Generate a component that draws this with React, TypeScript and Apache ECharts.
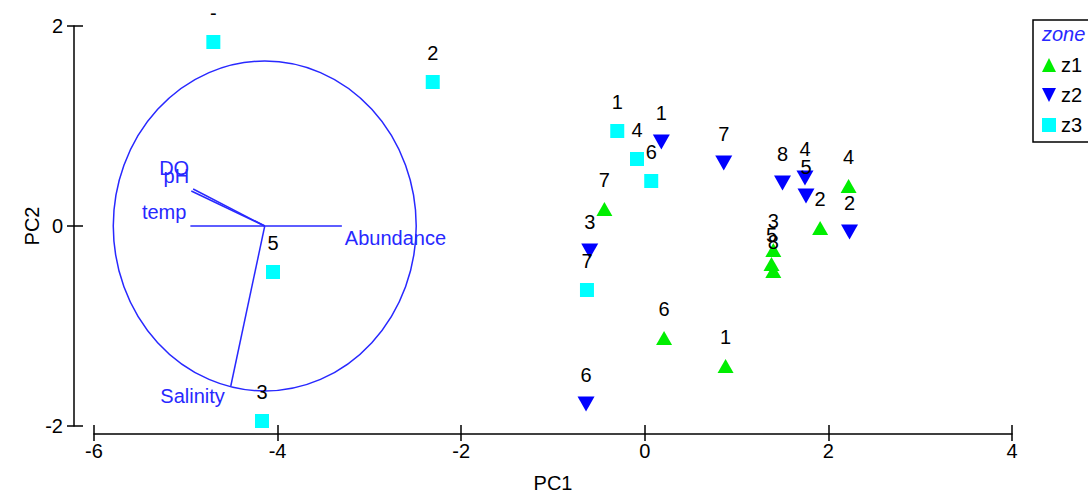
import React, { useEffect, useRef } from "react";
import * as echarts from "echarts";

// ---- Data ----
const xTicks = [-6, -4, -2, 0, 2, 4];
const yTicks = [-2, 0, 2];

const z1Labels = ["1", "2", "3", "4", "5", "6", "7", "8"];
const z1X = [0.88, 1.91, 1.4, 2.22, 1.38, 0.21, -0.44, 1.4];
const z1Y = [-1.4, -0.02, -0.24, 0.4, -0.38, -1.12, 0.17, -0.45];

const z2Labels = ["1", "2", "3", "4", "5", "6", "7", "8"];
const z2X = [0.18, 2.23, -0.6, 1.745, 1.756, -0.64, 0.86, 1.5];
const z2Y = [0.84, -0.06, -0.25, 0.48, 0.3, -1.78, 0.63, 0.43];

const z3Labels = ["1", "2", "3", "4", "5", "6", "7", "-"];
const z3X = [-0.3, -2.31, -4.17, -0.085, -4.05, 0.07, -0.63, -4.7];
const z3Y = [0.95, 1.44, -1.95, 0.67, -0.46, 0.45, -0.64, 1.84];

// biplot: correlation circle and variable vectors
const circleCenter = [-4.14, 0];
const circleRadius = 1.65;
const vectorNames = ["DO", "pH", "temp", "Abundance", "Salinity"];
const vectorEndX = [-4.92, -4.94, -4.95, -3.3, -4.51];
const vectorEndY = [0.37, 0.35, 0, 0, -1.6];

// ---- Styles ----
const FONT = "'Liberation Sans', Arial, sans-serif";
const BLUE = "#2828ff";
const labelPlace: Record<string, { align: string; dx: number; dy: number }> = {
  DO: { align: "center", dx: -19, dy: -21 },
  pH: { align: "center", dx: -15, dy: -15 },
  temp: { align: "right", dx: -4, dy: -14 },
  Abundance: { align: "left", dx: 3, dy: 12 },
  Salinity: { align: "right", dx: -6, dy: 10 },
};

const toData = (xs: number[], ys: number[], labels: string[]) =>
  xs.map((x, i) => ({ value: [x, ys[i]], name: labels[i] }));

const pointLabel = {
  show: true,
  position: "inside",
  offset: [0, -29],
  formatter: "{b}",
  color: "#000",
  textBorderWidth: 0,
  fontSize: 20,
  fontFamily: FONT,
};

export default function App() {
  const ref = useRef<HTMLDivElement>(null);
  useEffect(() => {
    document.body.style.margin = "0";
    const chart = echarts.init(ref.current!, null, { renderer: "svg" });
    const axisCommon = {
      type: "value",
      splitLine: { show: false },
    };
    const option: any = {
      animation: false,
      backgroundColor: "#fff",
      grid: {
        left: 94,
        top: 26,
        width: 918,
        height: 400,
        containLabel: false,
        outerBoundsMode: "none",
      },
      xAxis: [
        {
          ...axisCommon,
          min: -6,
          max: 4,
          interval: 2,
          offset: 8,
          name: "PC1",
          nameLocation: "middle",
          nameGap: 39,
          nameMoveOverlap: false,
          nameTextStyle: { color: "#000", fontSize: 20, fontFamily: FONT },
          axisLine: { onZero: false, lineStyle: { color: "#000", width: 1.5 } },
          axisTick: { length: 7, lineStyle: { color: "#000", width: 1.5 } },
          axisLabel: { color: "#000", fontSize: 20, fontFamily: FONT, margin: 7 },
        },
        {
          ...axisCommon,
          min: -6,
          max: 4,
          interval: 2,
          offset: 8,
          position: "bottom",
          axisLine: { show: false, onZero: false },
          axisTick: { inside: true, length: 9, lineStyle: { color: "#000", width: 1.5 } },
          axisLabel: { show: false },
        },
      ],
      yAxis: [
        {
          ...axisCommon,
          min: -2,
          max: 2,
          interval: 2,
          offset: 20,
          name: "PC2",
          nameLocation: "middle",
          nameGap: 32,
          nameMoveOverlap: false,
          nameTextStyle: { color: "#000", fontSize: 20, fontFamily: FONT },
          axisLine: { onZero: false, lineStyle: { color: "#000", width: 1.5 } },
          axisTick: { length: 7, lineStyle: { color: "#000", width: 1.5 } },
          axisLabel: { color: "#000", fontSize: 20, fontFamily: FONT, margin: 11 },
        },
        {
          ...axisCommon,
          min: -2,
          max: 2,
          interval: 2,
          offset: 20,
          position: "left",
          axisLine: { show: false, onZero: false },
          axisTick: { inside: true, length: 9, lineStyle: { color: "#000", width: 1.5 } },
          axisLabel: { show: false },
        },
      ],
      legend: {
        orient: "vertical",
        left: 1042,
        top: 55,
        padding: 0,
        itemWidth: 14,
        itemHeight: 14,
        itemGap: 10,
        textStyle: { color: "#000", fontSize: 20, fontFamily: FONT, lineHeight: 20 },
        data: ["z1", "z2", "z3"],
      },
      graphic: [
        {
          type: "rect",
          shape: { x: 1033, y: 20, width: 80, height: 122 },
          style: { fill: "none", stroke: "#000", lineWidth: 1.5 },
        },
        {
          type: "text",
          x: 1042,
          y: 34,
          style: {
            text: "zone",
            fill: BLUE,
            font: `italic 20px ${FONT}`,
            textVerticalAlign: "middle",
          },
        },
      ],
      series: [
        {
          type: "custom",
          name: "circle",
          silent: true,
          clip: false,
          data: [[circleCenter[0], circleCenter[1], circleRadius]],
          renderItem: (params: any, api: any) => {
            const c = api.coord([api.value(0), api.value(1)]);
            const s = api.size([api.value(2), api.value(2)]);
            const rx = s[0];
            const ry = s[1];
            const d = `M${c[0] - rx},${c[1]} A${rx},${ry} 0 1 0 ${c[0] + rx},${c[1]} A${rx},${ry} 0 1 0 ${c[0] - rx},${c[1]} Z`;
            return {
              type: "path",
              shape: { pathData: d },
              style: { fill: "none", stroke: BLUE, lineWidth: 1.5 },
            };
          },
        },
        {
          type: "custom",
          name: "vectors",
          silent: true,
          clip: false,
          data: vectorEndX.map((x, i) => [circleCenter[0], circleCenter[1], x, vectorEndY[i]]),
          renderItem: (params: any, api: any) => {
            const p0 = api.coord([api.value(0), api.value(1)]);
            const p1 = api.coord([api.value(2), api.value(3)]);
            const name = vectorNames[params.dataIndex];
            const pl = labelPlace[name];
            return {
              type: "group",
              children: [
                {
                  type: "line",
                  shape: { x1: p0[0], y1: p0[1], x2: p1[0], y2: p1[1] },
                  style: { stroke: BLUE, lineWidth: 1.5 },
                },
                {
                  type: "text",
                  x: p1[0] + pl.dx,
                  y: p1[1] + pl.dy,
                  style: {
                    text: name,
                    fill: BLUE,
                    font: `20px ${FONT}`,
                    textAlign: pl.align,
                    textVerticalAlign: "middle",
                  },
                },
              ],
            };
          },
        },
        {
          type: "scatter",
          name: "z1",
          symbol: "triangle",
          symbolSize: [16, 14],
          itemStyle: { color: "#00ee00", opacity: 1 },
          label: pointLabel,
          data: toData(z1X, z1Y, z1Labels),
        },
        {
          type: "scatter",
          name: "z2",
          symbol: "path://M0,0L10,0L5,10Z",
          symbolSize: [17, 15],
          itemStyle: { color: "#0000ff", opacity: 1 },
          label: pointLabel,
          data: toData(z2X, z2Y, z2Labels),
        },
        {
          type: "scatter",
          name: "z3",
          symbol: "rect",
          symbolSize: 14,
          itemStyle: { color: "#00ffff", opacity: 1 },
          label: pointLabel,
          data: toData(z3X, z3Y, z3Labels),
        },
      ],
    };
    chart.setOption(option);
    return () => chart.dispose();
  }, []);
  return <div ref={ref} style={{ width: 1088, height: 493 }} />;
}
